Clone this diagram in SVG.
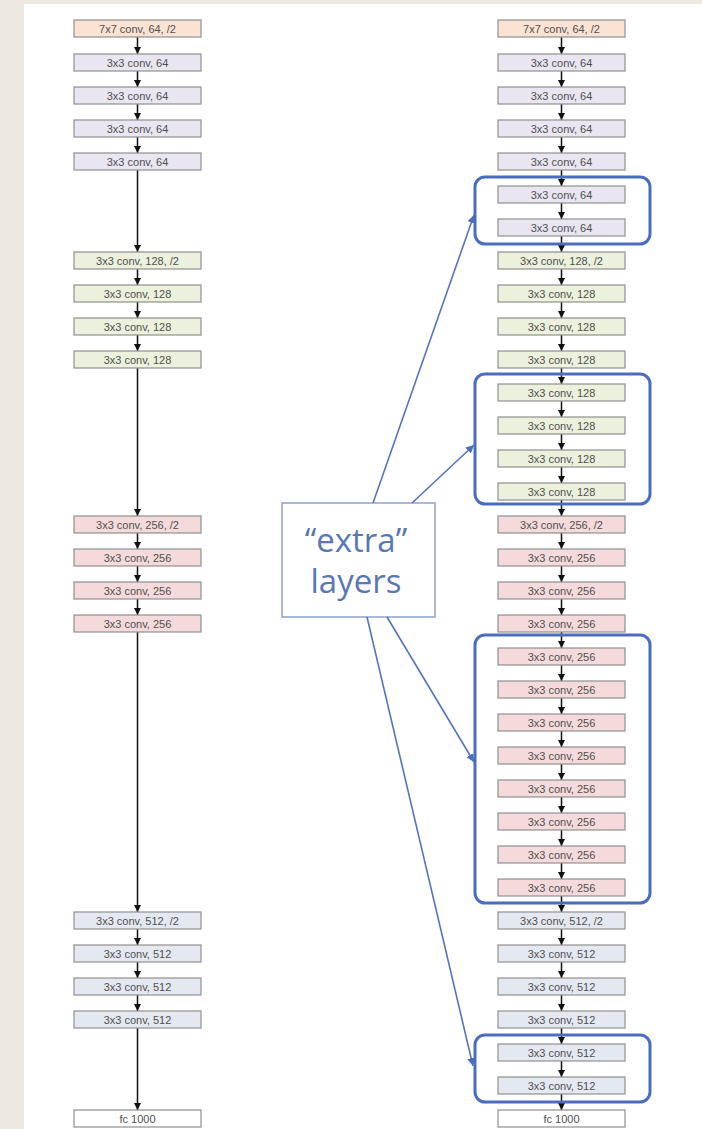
<svg xmlns="http://www.w3.org/2000/svg" width="702" height="1129" viewBox="0 0 702 1129">
<style>
.n rect{stroke:#8f8f8f;stroke-width:1.2}
.n text{font-family:"Liberation Sans",Arial,sans-serif;font-size:11px;fill:#505050;text-anchor:middle}
.c0 rect{fill:#fbe3d3}
.c1 rect{fill:#e9e5f1}
.c2 rect{fill:#ebf1dc}
.c3 rect{fill:#f4dada}
.c4 rect{fill:#e4e8f1}
.c5 rect{fill:#ffffff}
.cn line{stroke:#111;stroke-width:1.5;marker-end:url(#ah)}
.hl rect{fill:none;stroke:#4a6dbf;stroke-width:3}
.bl line{stroke:#5574bd;stroke-width:1.6;marker-end:url(#bh)}
</style>
<defs>
<marker id="ah" markerUnits="userSpaceOnUse" markerWidth="8" markerHeight="8" refX="7" refY="3.5" orient="auto"><path d="M0,0 L7,3.5 L0,7 z" fill="#111"/></marker>
<marker id="bh" markerUnits="userSpaceOnUse" markerWidth="10" markerHeight="10" refX="8" refY="4" orient="auto"><path d="M0,0 L8,4 L0,8 z" fill="#4a6dbf"/></marker>
</defs>
<rect x="0" y="0" width="702" height="1129" fill="#ede9e1"/>
<rect x="24" y="4" width="678" height="1125" fill="#ffffff"/>

<g id="connectors" class="cn">
<!-- left column -->
<line x1="137.5" y1="37" x2="137.5" y2="54"/>
<line x1="137.5" y1="71" x2="137.5" y2="87"/>
<line x1="137.5" y1="104" x2="137.5" y2="120"/>
<line x1="137.5" y1="137" x2="137.5" y2="153"/>
<line x1="137.5" y1="170" x2="137.5" y2="252"/>
<line x1="137.5" y1="269" x2="137.5" y2="285"/>
<line x1="137.5" y1="302" x2="137.5" y2="318"/>
<line x1="137.5" y1="335" x2="137.5" y2="351"/>
<line x1="137.5" y1="368" x2="137.5" y2="516"/>
<line x1="137.5" y1="533" x2="137.5" y2="549"/>
<line x1="137.5" y1="566" x2="137.5" y2="582"/>
<line x1="137.5" y1="599" x2="137.5" y2="615"/>
<line x1="137.5" y1="632" x2="137.5" y2="912"/>
<line x1="137.5" y1="929" x2="137.5" y2="945"/>
<line x1="137.5" y1="962" x2="137.5" y2="978"/>
<line x1="137.5" y1="995" x2="137.5" y2="1011"/>
<line x1="137.5" y1="1028" x2="137.5" y2="1110"/>
<!-- right column -->
<line x1="561.5" y1="37" x2="561.5" y2="54"/>
<line x1="561.5" y1="71" x2="561.5" y2="87"/>
<line x1="561.5" y1="104" x2="561.5" y2="120"/>
<line x1="561.5" y1="137" x2="561.5" y2="153"/>
<line x1="561.5" y1="170" x2="561.5" y2="186"/>
<line x1="561.5" y1="203" x2="561.5" y2="219"/>
<line x1="561.5" y1="236" x2="561.5" y2="252"/>
<line x1="561.5" y1="269" x2="561.5" y2="285"/>
<line x1="561.5" y1="302" x2="561.5" y2="318"/>
<line x1="561.5" y1="335" x2="561.5" y2="351"/>
<line x1="561.5" y1="368" x2="561.5" y2="384"/>
<line x1="561.5" y1="401" x2="561.5" y2="417"/>
<line x1="561.5" y1="434" x2="561.5" y2="450"/>
<line x1="561.5" y1="467" x2="561.5" y2="483"/>
<line x1="561.5" y1="500" x2="561.5" y2="516"/>
<line x1="561.5" y1="533" x2="561.5" y2="549"/>
<line x1="561.5" y1="566" x2="561.5" y2="582"/>
<line x1="561.5" y1="599" x2="561.5" y2="615"/>
<line x1="561.5" y1="632" x2="561.5" y2="648"/>
<line x1="561.5" y1="665" x2="561.5" y2="681"/>
<line x1="561.5" y1="698" x2="561.5" y2="714"/>
<line x1="561.5" y1="731" x2="561.5" y2="747"/>
<line x1="561.5" y1="764" x2="561.5" y2="780"/>
<line x1="561.5" y1="797" x2="561.5" y2="813"/>
<line x1="561.5" y1="830" x2="561.5" y2="846"/>
<line x1="561.5" y1="863" x2="561.5" y2="879"/>
<line x1="561.5" y1="896" x2="561.5" y2="912"/>
<line x1="561.5" y1="929" x2="561.5" y2="945"/>
<line x1="561.5" y1="962" x2="561.5" y2="978"/>
<line x1="561.5" y1="995" x2="561.5" y2="1011"/>
<line x1="561.5" y1="1028" x2="561.5" y2="1044"/>
<line x1="561.5" y1="1061" x2="561.5" y2="1077"/>
<line x1="561.5" y1="1094" x2="561.5" y2="1110"/>
</g>

<!-- left column nodes -->
<g id="L0" class="n c0"><rect x="74" y="20" width="127" height="17"/><text x="137.5" y="32.5">7x7 conv, 64, /2</text></g>
<g id="L1" class="n c1"><rect x="74" y="54" width="127" height="17"/><text x="137.5" y="66.5">3x3 conv, 64</text></g>
<g id="L2" class="n c1"><rect x="74" y="87" width="127" height="17"/><text x="137.5" y="99.5">3x3 conv, 64</text></g>
<g id="L3" class="n c1"><rect x="74" y="120" width="127" height="17"/><text x="137.5" y="132.5">3x3 conv, 64</text></g>
<g id="L4" class="n c1"><rect x="74" y="153" width="127" height="17"/><text x="137.5" y="165.5">3x3 conv, 64</text></g>
<g id="L7" class="n c2"><rect x="74" y="252" width="127" height="17"/><text x="137.5" y="264.5">3x3 conv, 128, /2</text></g>
<g id="L8" class="n c2"><rect x="74" y="285" width="127" height="17"/><text x="137.5" y="297.5">3x3 conv, 128</text></g>
<g id="L9" class="n c2"><rect x="74" y="318" width="127" height="17"/><text x="137.5" y="330.5">3x3 conv, 128</text></g>
<g id="L10" class="n c2"><rect x="74" y="351" width="127" height="17"/><text x="137.5" y="363.5">3x3 conv, 128</text></g>
<g id="L15" class="n c3"><rect x="74" y="516" width="127" height="17"/><text x="137.5" y="528.5">3x3 conv, 256, /2</text></g>
<g id="L16" class="n c3"><rect x="74" y="549" width="127" height="17"/><text x="137.5" y="561.5">3x3 conv, 256</text></g>
<g id="L17" class="n c3"><rect x="74" y="582" width="127" height="17"/><text x="137.5" y="594.5">3x3 conv, 256</text></g>
<g id="L18" class="n c3"><rect x="74" y="615" width="127" height="17"/><text x="137.5" y="627.5">3x3 conv, 256</text></g>
<g id="L27" class="n c4"><rect x="74" y="912" width="127" height="17"/><text x="137.5" y="924.5">3x3 conv, 512, /2</text></g>
<g id="L28" class="n c4"><rect x="74" y="945" width="127" height="17"/><text x="137.5" y="957.5">3x3 conv, 512</text></g>
<g id="L29" class="n c4"><rect x="74" y="978" width="127" height="17"/><text x="137.5" y="990.5">3x3 conv, 512</text></g>
<g id="L30" class="n c4"><rect x="74" y="1011" width="127" height="17"/><text x="137.5" y="1023.5">3x3 conv, 512</text></g>
<g id="L33" class="n c5"><rect x="74" y="1110" width="127" height="17"/><text x="137.5" y="1122.5">fc 1000</text></g>

<!-- right column nodes -->
<g id="R0" class="n c0"><rect x="498" y="20" width="127" height="17"/><text x="561.5" y="32.5">7x7 conv, 64, /2</text></g>
<g id="R1" class="n c1"><rect x="498" y="54" width="127" height="17"/><text x="561.5" y="66.5">3x3 conv, 64</text></g>
<g id="R2" class="n c1"><rect x="498" y="87" width="127" height="17"/><text x="561.5" y="99.5">3x3 conv, 64</text></g>
<g id="R3" class="n c1"><rect x="498" y="120" width="127" height="17"/><text x="561.5" y="132.5">3x3 conv, 64</text></g>
<g id="R4" class="n c1"><rect x="498" y="153" width="127" height="17"/><text x="561.5" y="165.5">3x3 conv, 64</text></g>
<g id="R5" class="n c1"><rect x="498" y="186" width="127" height="17"/><text x="561.5" y="198.5">3x3 conv, 64</text></g>
<g id="R6" class="n c1"><rect x="498" y="219" width="127" height="17"/><text x="561.5" y="231.5">3x3 conv, 64</text></g>
<g id="R7" class="n c2"><rect x="498" y="252" width="127" height="17"/><text x="561.5" y="264.5">3x3 conv, 128, /2</text></g>
<g id="R8" class="n c2"><rect x="498" y="285" width="127" height="17"/><text x="561.5" y="297.5">3x3 conv, 128</text></g>
<g id="R9" class="n c2"><rect x="498" y="318" width="127" height="17"/><text x="561.5" y="330.5">3x3 conv, 128</text></g>
<g id="R10" class="n c2"><rect x="498" y="351" width="127" height="17"/><text x="561.5" y="363.5">3x3 conv, 128</text></g>
<g id="R11" class="n c2"><rect x="498" y="384" width="127" height="17"/><text x="561.5" y="396.5">3x3 conv, 128</text></g>
<g id="R12" class="n c2"><rect x="498" y="417" width="127" height="17"/><text x="561.5" y="429.5">3x3 conv, 128</text></g>
<g id="R13" class="n c2"><rect x="498" y="450" width="127" height="17"/><text x="561.5" y="462.5">3x3 conv, 128</text></g>
<g id="R14" class="n c2"><rect x="498" y="483" width="127" height="17"/><text x="561.5" y="495.5">3x3 conv, 128</text></g>
<g id="R15" class="n c3"><rect x="498" y="516" width="127" height="17"/><text x="561.5" y="528.5">3x3 conv, 256, /2</text></g>
<g id="R16" class="n c3"><rect x="498" y="549" width="127" height="17"/><text x="561.5" y="561.5">3x3 conv, 256</text></g>
<g id="R17" class="n c3"><rect x="498" y="582" width="127" height="17"/><text x="561.5" y="594.5">3x3 conv, 256</text></g>
<g id="R18" class="n c3"><rect x="498" y="615" width="127" height="17"/><text x="561.5" y="627.5">3x3 conv, 256</text></g>
<g id="R19" class="n c3"><rect x="498" y="648" width="127" height="17"/><text x="561.5" y="660.5">3x3 conv, 256</text></g>
<g id="R20" class="n c3"><rect x="498" y="681" width="127" height="17"/><text x="561.5" y="693.5">3x3 conv, 256</text></g>
<g id="R21" class="n c3"><rect x="498" y="714" width="127" height="17"/><text x="561.5" y="726.5">3x3 conv, 256</text></g>
<g id="R22" class="n c3"><rect x="498" y="747" width="127" height="17"/><text x="561.5" y="759.5">3x3 conv, 256</text></g>
<g id="R23" class="n c3"><rect x="498" y="780" width="127" height="17"/><text x="561.5" y="792.5">3x3 conv, 256</text></g>
<g id="R24" class="n c3"><rect x="498" y="813" width="127" height="17"/><text x="561.5" y="825.5">3x3 conv, 256</text></g>
<g id="R25" class="n c3"><rect x="498" y="846" width="127" height="17"/><text x="561.5" y="858.5">3x3 conv, 256</text></g>
<g id="R26" class="n c3"><rect x="498" y="879" width="127" height="17"/><text x="561.5" y="891.5">3x3 conv, 256</text></g>
<g id="R27" class="n c4"><rect x="498" y="912" width="127" height="17"/><text x="561.5" y="924.5">3x3 conv, 512, /2</text></g>
<g id="R28" class="n c4"><rect x="498" y="945" width="127" height="17"/><text x="561.5" y="957.5">3x3 conv, 512</text></g>
<g id="R29" class="n c4"><rect x="498" y="978" width="127" height="17"/><text x="561.5" y="990.5">3x3 conv, 512</text></g>
<g id="R30" class="n c4"><rect x="498" y="1011" width="127" height="17"/><text x="561.5" y="1023.5">3x3 conv, 512</text></g>
<g id="R31" class="n c4"><rect x="498" y="1044" width="127" height="17"/><text x="561.5" y="1056.5">3x3 conv, 512</text></g>
<g id="R32" class="n c4"><rect x="498" y="1077" width="127" height="17"/><text x="561.5" y="1089.5">3x3 conv, 512</text></g>
<g id="R33" class="n c5"><rect x="498" y="1110" width="127" height="17"/><text x="561.5" y="1122.5">fc 1000</text></g>

<!-- highlight groups -->
<g id="groupA" class="hl"><rect x="475" y="177" width="175" height="67" rx="10"/></g>
<g id="groupB" class="hl"><rect x="475" y="374" width="175" height="130" rx="10"/></g>
<g id="groupC" class="hl"><rect x="475" y="635" width="175" height="268" rx="10"/></g>
<g id="groupD" class="hl"><rect x="475" y="1035" width="175" height="67" rx="10"/></g>

<!-- callout -->
<g id="callout">
<rect x="282" y="503" width="153" height="114" fill="#ffffff" stroke="#8ea2c9" stroke-width="1.5"/>
<text x="356" y="552" font-family="'Open Sans','Noto Sans',sans-serif" font-size="33" fill="#5a77b4" text-anchor="middle">“extra”</text>
<text x="356" y="593" font-family="'Open Sans','Noto Sans',sans-serif" font-size="33" fill="#5a77b4" text-anchor="middle">layers</text>
</g>
<g id="callout-arrows" class="bl">
<line x1="373" y1="503" x2="474" y2="215"/>
<line x1="412" y1="503" x2="474" y2="445"/>
<line x1="387" y1="617" x2="474" y2="762"/>
<line x1="367" y1="617" x2="473" y2="1066"/>
</g>
</svg>
